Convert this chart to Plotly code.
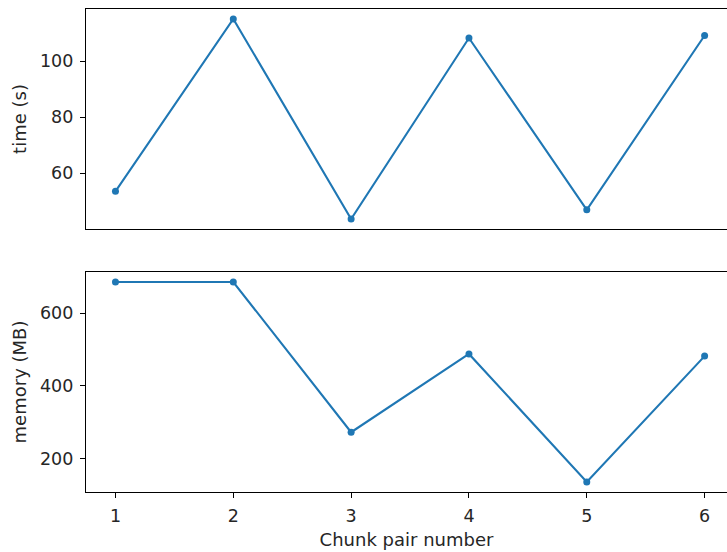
import plotly.graph_objects as go
from plotly.subplots import make_subplots

chunks = [1, 2, 3, 4, 5, 6]
time_s = [53.5, 115.1, 43.6, 108.3, 46.9, 109.2]
memory_mb = [686, 686, 272.5, 488, 135.5, 482]
x_label = "Chunk pair number"
y_labels = ["time (s)", "memory (MB)"]

color = "#1f77b4"
font = dict(family="DejaVu Sans", size=17.5, color="#262626")
title_font = dict(family="DejaVu Sans", size=18, color="#262626")

fig = make_subplots(rows=2, cols=1, vertical_spacing=0.089)
for i, ys in enumerate([time_s, memory_mb], start=1):
    fig.add_trace(go.Scatter(x=chunks, y=ys, mode="lines+markers",
                             line=dict(color=color, width=2.1),
                             marker=dict(color=color, size=7),
                             showlegend=False), row=i, col=1)


def pad(vals):
    lo, hi = min(vals), max(vals)
    m = (hi - lo) * 0.05
    return [lo - m, hi + m]


axis_common = dict(showgrid=False, zeroline=False, showline=True,
                   linecolor="black", linewidth=1.2, ticks="outside",
                   ticklen=5, tickcolor="black", tickwidth=1.2,
                   tickfont=font, ticklabelstandoff=3)
fig.update_xaxes(**axis_common, mirror=True, range=[0.75, 6.19], tickvals=chunks)
fig.update_xaxes(showticklabels=False, ticks="", row=1, col=1)
fig.update_xaxes(title=dict(text=x_label, font=title_font, standoff=8), row=2, col=1)
fig.update_yaxes(**axis_common, mirror=False)
fig.update_yaxes(range=pad(time_s), tickvals=[60, 80, 100],
                 title=dict(text=y_labels[0], font=title_font, standoff=8), row=1, col=1)
fig.update_yaxes(range=pad(memory_mb), tickvals=[200, 400, 600],
                 title=dict(text=y_labels[1], font=title_font, standoff=8), row=2, col=1)

fig.update_layout(width=727, height=552, margin=dict(l=86, r=0, t=9, b=60),
                  plot_bgcolor="white", paper_bgcolor="white", font=font)
fig.write_html("out.html")
